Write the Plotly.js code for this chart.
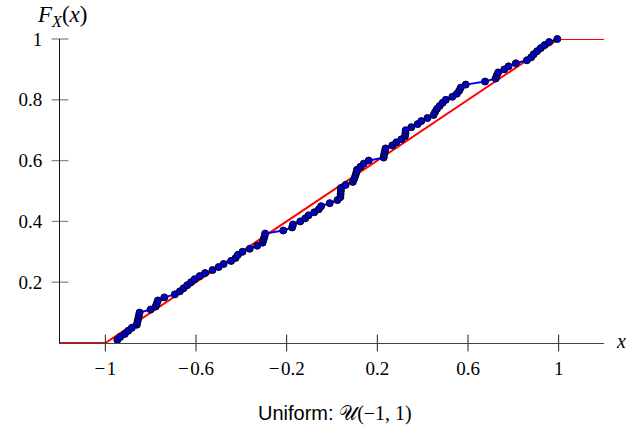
<!DOCTYPE html>
<html>
<head>
<meta charset="utf-8">
<script src="https://cdn.plot.ly/plotly-3.0.1.min.js"></script>
<style>
  html, body { margin: 0; padding: 0; background: #fff; }
  #chart { width: 628px; height: 436px; }
</style>
</head>
<body>
<div id="chart"></div>
<script>
// Sorted sample of 100 draws from U(-1, 1) and its empirical CDF heights
const sampleX = [
  -0.947, -0.934, -0.914, -0.899, -0.883, -0.861, -0.858, -0.855, -0.852, -0.849,
  -0.800, -0.778, -0.773, -0.768, -0.740, -0.693, -0.671, -0.655, -0.639, -0.622,
  -0.606, -0.584, -0.560, -0.527, -0.500, -0.478, -0.445, -0.425, -0.415, -0.395,
  -0.363, -0.330, -0.306, -0.302, -0.298, -0.295, -0.215, -0.176, -0.172, -0.140,
  -0.118, -0.103, -0.078, -0.058, -0.048, -0.010, 0.024, 0.037, 0.038, 0.039,
  0.040, 0.060, 0.092, 0.098, 0.103, 0.107, 0.110, 0.126, 0.140, 0.162,
  0.228, 0.230, 0.233, 0.236, 0.266, 0.284, 0.306, 0.322, 0.324, 0.325,
  0.350, 0.378, 0.394, 0.421, 0.448, 0.455, 0.463, 0.475, 0.488, 0.502,
  0.531, 0.551, 0.561, 0.568, 0.590, 0.675, 0.722, 0.727, 0.733, 0.760,
  0.779, 0.811, 0.860, 0.879, 0.890, 0.905, 0.921, 0.938, 0.958, 0.994
];
const ecdfY = [
  0.01, 0.02, 0.03, 0.04, 0.05, 0.06, 0.07, 0.08, 0.09, 0.10,
  0.11, 0.12, 0.13, 0.14, 0.15, 0.16, 0.17, 0.18, 0.19, 0.20,
  0.21, 0.22, 0.23, 0.24, 0.25, 0.26, 0.27, 0.28, 0.29, 0.30,
  0.31, 0.32, 0.33, 0.34, 0.35, 0.36, 0.37, 0.38, 0.39, 0.40,
  0.41, 0.42, 0.43, 0.44, 0.45, 0.46, 0.47, 0.48, 0.49, 0.50,
  0.51, 0.52, 0.53, 0.54, 0.55, 0.56, 0.57, 0.58, 0.59, 0.60,
  0.61, 0.62, 0.63, 0.64, 0.65, 0.66, 0.67, 0.68, 0.69, 0.70,
  0.71, 0.72, 0.73, 0.74, 0.75, 0.76, 0.77, 0.78, 0.79, 0.80,
  0.81, 0.82, 0.83, 0.84, 0.85, 0.86, 0.87, 0.88, 0.89, 0.90,
  0.91, 0.92, 0.93, 0.94, 0.95, 0.96, 0.97, 0.98, 0.99, 1.00
];

// Theoretical CDF of U(-1, 1)
const cdfX = [-1.2, -1, 1, 1.2];
const cdfY = [0, 0, 1, 1];

// Axis ticks
const xTickVals = [-1, -0.6, -0.2, 0.2, 0.6, 1];
const xTickText = ['\u2212\u200A1', '\u2212\u200A0.6', '\u2212\u200A0.2', '0.2', '0.6', '1'];
const yTickVals = [0.2, 0.4, 0.6, 0.8, 1];
const yTickText = ['0.2', '0.4', '0.6', '0.8', '1'];

const xMin = -1.2, xMax = 1.2;
const yMin = 0, yMax = 1;
const serif = '"Liberation Serif", "DejaVu Serif", serif';
const tickSize = 12;
const xTickColor = '#222';
const yTickColor = '#8a8a8a';

const traces = [
  {
    x: cdfX, y: cdfY, type: 'scatter', mode: 'lines',
    line: { color: '#ff0000', width: 2 },
    cliponaxis: false, hoverinfo: 'skip'
  },
  {
    x: sampleX, y: ecdfY, type: 'scatter', mode: 'lines+markers',
    line: { color: '#0000ff', width: 2 },
    marker: { color: '#0000c8', size: 7, line: { color: '#00001a', width: 1 } },
    cliponaxis: false
  },
  // tick marks crossing the x axis line
  {
    x: xTickVals, y: xTickVals.map(() => yMin), type: 'scatter', mode: 'markers',
    marker: { symbol: 'line-ns-open', size: tickSize, color: xTickColor,
              line: { color: xTickColor, width: 1 } },
    cliponaxis: false, hoverinfo: 'skip'
  },
  // tick marks crossing the y axis line
  {
    x: yTickVals.map(() => xMin), y: yTickVals, type: 'scatter', mode: 'markers',
    marker: { symbol: 'line-ew-open', size: tickSize, color: yTickColor,
              line: { color: yTickColor, width: 1.3 } },
    cliponaxis: false, hoverinfo: 'skip'
  }
];

const layout = {
  width: 628, height: 436,
  margin: { l: 60, r: 24, t: 39, b: 93 },
  paper_bgcolor: '#fff', plot_bgcolor: 'rgba(0,0,0,0)',
  showlegend: false,
  xaxis: {
    range: [xMin, xMax], showgrid: false, zeroline: false,
    showline: true, linecolor: '#444', linewidth: 1,
    tickvals: xTickVals, ticktext: xTickText,
    ticks: '', ticklabelstandoff: 8,
    tickfont: { family: serif, size: 19, color: '#000' }
  },
  yaxis: {
    range: [yMin, yMax], showgrid: false, zeroline: false,
    showline: true, linecolor: '#111', linewidth: 1,
    tickvals: yTickVals, ticktext: yTickText,
    ticks: '', ticklabelstandoff: 13,
    tickfont: { family: serif, size: 19, color: '#000' }
  },
  annotations: [
    {
      xref: 'paper', yref: 'paper', x: 0, y: 1, xanchor: 'left', yanchor: 'bottom',
      xshift: -25, yshift: 7,
      text: '<i>F</i><sub><i>X</i></sub>(<i>x</i>)', showarrow: false,
      font: { family: serif, size: 23, color: '#000' }
    },
    {
      xref: 'paper', yref: 'paper', x: 1, y: 0, xanchor: 'left', yanchor: 'middle',
      xshift: 10, yshift: 2,
      text: '<i>x</i>', showarrow: false,
      font: { family: serif, size: 20, color: '#000' }
    },
    {
      xref: 'paper', yref: 'paper', x: 0.5, y: 0, xanchor: 'center', yanchor: 'middle',
      xshift: 3, yshift: -70,
      text: 'Uniform: <span style="font-family:\'Liberation Serif\', serif">\uD835\uDCB0(\u22121, 1)</span>',
      showarrow: false,
      font: { family: '"Liberation Sans", Arial, sans-serif', size: 20, color: '#000' }
    }
  ]
};

Plotly.newPlot('chart', traces, layout, { staticPlot: true, displayModeBar: false });
</script>
</body>
</html>
